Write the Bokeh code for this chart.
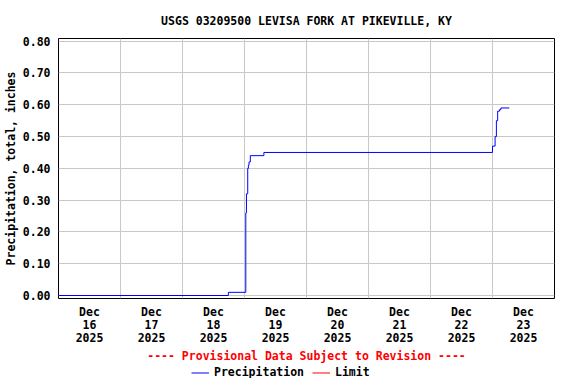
import numpy as np
import pandas as pd
from bokeh.plotting import figure
from bokeh.layouts import column
from bokeh.models import (FixedTicker, DatetimeTickFormatter, NumeralTickFormatter,
                          Legend, LegendItem, Range1d, ColumnDataSource)
from bokeh.embed import file_html
from bokeh.resources import INLINE

# ---- data ----
title_text = "USGS 03209500 LEVISA FORK AT PIKEVILLE, KY"
y_label = "Precipitation, total, inches"
provisional = "---- Provisional Data Subject to Revision ----"
series_names = ["Precipitation", "Limit"]
series_colors = ["#0000ff", "#ff0000"]

times = ["2025-12-16 00:00", "2025-12-18 17:45", "2025-12-19 00:30", "2025-12-19 00:45",
         "2025-12-19 01:15", "2025-12-19 01:30", "2025-12-19 01:45", "2025-12-19 02:15",
         "2025-12-19 07:30", "2025-12-23 00:00", "2025-12-23 01:00", "2025-12-23 01:30",
         "2025-12-23 02:00", "2025-12-23 02:45", "2025-12-23 03:15", "2025-12-23 06:30"]
precip = [0.00, 0.01, 0.26, 0.32, 0.40, 0.41, 0.42, 0.44, 0.45, 0.47, 0.50, 0.55,
          0.58, 0.585, 0.59, 0.59]

day_labels = ["2025-12-16", "2025-12-17", "2025-12-18", "2025-12-19",
              "2025-12-20", "2025-12-21", "2025-12-22", "2025-12-23"]
y_ticks = [0.0, 0.1, 0.2, 0.3, 0.4, 0.5, 0.6, 0.7, 0.8]
x_start = "2025-12-16 00:00"
x_end = "2025-12-24 00:00"

def ms(s):
    return pd.Timestamp(s).value / 1e6

FONT = "DejaVu Sans Mono"
FS = "11.5px"

src = ColumnDataSource(dict(t=pd.to_datetime(times), v=precip))

p = figure(frame_width=496, frame_height=260, x_axis_type="datetime", output_backend="svg",
           toolbar_location=None,
           x_range=Range1d(ms(x_start), ms(x_end)),
           y_range=Range1d(-0.0094, 0.8085),
           min_border_left=0, min_border_right=10, min_border_top=0, min_border_bottom=0)
p.background_fill_color = "white"
p.border_fill_color = "white"
p.outline_line_color = "black"
p.outline_line_width = 1

p.step("t", "v", source=src, mode="after", line_color=series_colors[0], line_width=1)

# title
p.title.text = title_text
p.title.align = "center"
p.title.text_font = FONT
p.title.text_font_size = FS
p.title.text_font_style = "bold"
p.title.text_color = "black"
p.title.standoff = 22

# x axis
noons = [ms(d) + 12 * 3600 * 1000 for d in day_labels]
midnights = [ms(d) for d in day_labels[1:]]
xa = p.xaxis[0]
xa.ticker = FixedTicker(ticks=noons)
fmt = "%b\n%d\n%Y"
xa.formatter = DatetimeTickFormatter(microseconds=fmt, milliseconds=fmt, seconds=fmt,
                                     minsec=fmt, minutes=fmt, hourmin=fmt, hours=fmt,
                                     days=fmt, months=fmt, years=fmt)
xa.major_label_text_font = FONT
xa.major_label_text_font_size = FS
xa.major_label_text_font_style = "bold"
xa.major_label_text_color = "black"
xa.major_label_text_line_height = 0.95
xa.major_label_standoff = 6
xa.major_tick_out = 0
xa.major_tick_in = 0
xa.minor_tick_out = 0
xa.minor_tick_in = 0
xa.axis_line_color = None
xa.axis_label = provisional
xa.axis_label_text_font = FONT
xa.axis_label_text_font_size = FS
xa.axis_label_text_font_style = "bold"
xa.axis_label_text_color = "#ff0000"
xa.axis_label_standoff = 1

# y axis
ya = p.yaxis[0]
ya.ticker = FixedTicker(ticks=y_ticks)
ya.formatter = NumeralTickFormatter(format="0.00")
ya.major_label_text_font = FONT
ya.major_label_text_font_size = FS
ya.major_label_text_font_style = "bold"
ya.major_label_text_color = "black"
ya.major_label_standoff = 8
ya.major_tick_out = 0
ya.major_tick_in = 0
ya.minor_tick_out = 0
ya.minor_tick_in = 0
ya.axis_line_color = None
ya.axis_label = y_label
ya.axis_label_text_font = FONT
ya.axis_label_text_font_size = FS
ya.axis_label_text_font_style = "bold"
ya.axis_label_text_color = "black"
ya.axis_label_standoff = 2

# grids
p.xgrid.ticker = FixedTicker(ticks=midnights)
p.ygrid.ticker = FixedTicker(ticks=y_ticks)
for g in (p.xgrid[0], p.ygrid[0]):
    g.grid_line_color = "#c8c8c8"
    g.grid_line_width = 1

# legend strip (its own small figure under the chart)
p2 = figure(width=556, height=12, output_backend="svg", toolbar_location=None,
            x_range=Range1d(0, 1), y_range=Range1d(0, 1),
            x_axis_location=None, y_axis_location=None,
            min_border_left=0, min_border_right=0, min_border_top=0, min_border_bottom=0)
p2.grid.visible = False
p2.outline_line_color = None
p2.background_fill_color = "white"
p2.border_fill_color = "white"
items = []
for name, col in zip(series_names, series_colors):
    r = p2.line(x=[np.nan], y=[np.nan], line_color=col, line_width=1)
    items.append(LegendItem(label=name, renderers=[r]))
legend = Legend(items=items, orientation="horizontal", location=(133, -1),
                padding=0, margin=0, spacing=8, label_standoff=5,
                glyph_width=18, glyph_height=11, label_height=11,
                border_line_color=None, background_fill_alpha=0,
                label_text_font=FONT, label_text_font_size=FS,
                label_text_font_style="bold", label_text_color="black")
p2.add_layout(legend, "center")

layout = column(p, p2, spacing=0)
open("out.html", "w").write(file_html(layout, INLINE))
